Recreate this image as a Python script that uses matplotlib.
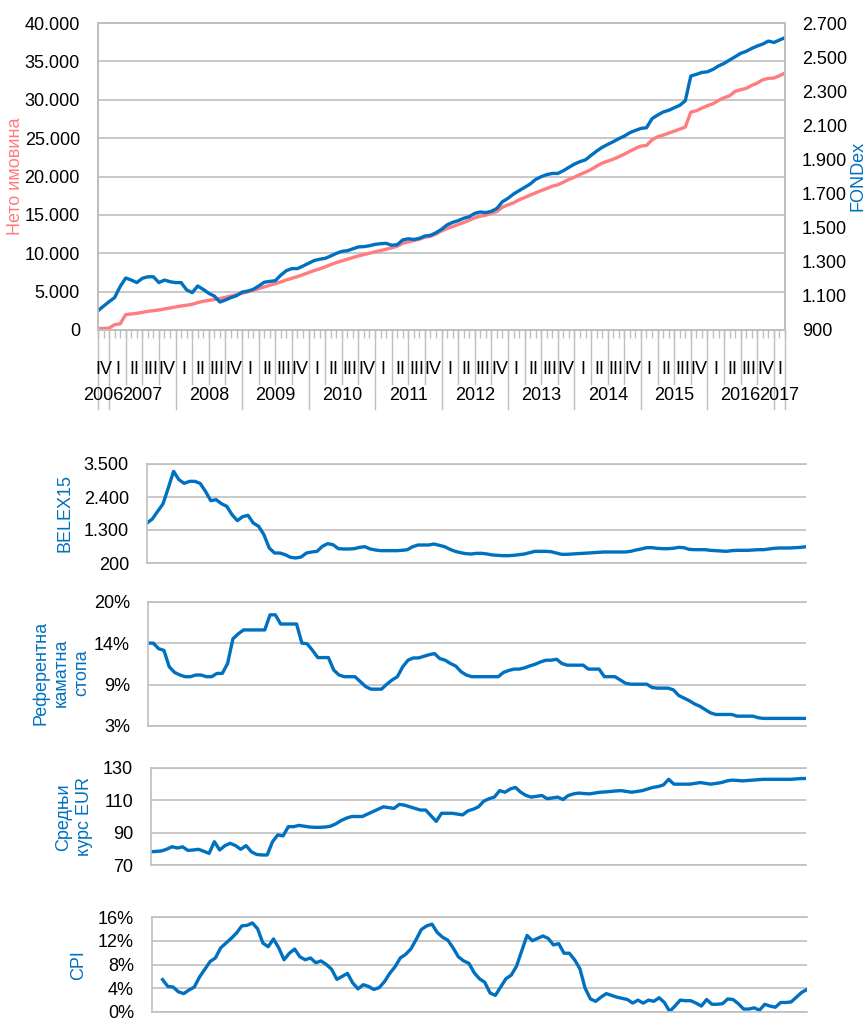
import matplotlib
matplotlib.use("Agg")
import matplotlib.pyplot as plt
import matplotlib.transforms as mtransforms
import numpy as np

plt.rcParams['font.family'] = ['Liberation Sans', 'DejaVu Sans']

# Monthly data, Oct 2006 .. Feb 2017 (125 months)
months = list(range(125))

# Net assets (left axis of the top chart)
neto = [200, 200, 250, 700, 800, 2000, 2090, 2170, 2300, 2430,
        2520, 2610, 2740, 2870, 3000, 3130, 3220, 3350, 3570, 3740,
        3870, 3960, 4090, 4260, 4430, 4610, 4780, 4960, 5170, 5390,
        5610, 5830, 6040, 6260, 6520, 6740, 6960, 7220, 7480, 7740,
        7960, 8220, 8520, 8780, 9000, 9220, 9440, 9650, 9830, 10000,
        10170, 10350, 10520, 10700, 10910, 11300, 11480, 11650, 11830, 12090,
        12200, 12500, 12900, 13220, 13480, 13740, 14000, 14300, 14610, 14830,
        14960, 15220, 15440, 16000, 16310, 16570, 16960, 17260, 17570, 17870,
        18170, 18440, 18740, 18910, 19260, 19610, 19910, 20260, 20570, 20910,
        21350, 21740, 22000, 22260, 22570, 22910, 23300, 23650, 23960, 24040,
        24780, 25170, 25390, 25650, 25910, 26170, 26440, 28390, 28570, 28910,
        29220, 29480, 29910, 30260, 30520, 31090, 31310, 31480, 31870, 32180,
        32610, 32780, 32830, 33130, 33480]

# FONDex (right axis of the top chart)
fondex = [1013, 1040, 1066, 1090, 1155, 1205, 1193, 1178, 1203, 1212,
          1212, 1178, 1193, 1183, 1178, 1178, 1135, 1119, 1158, 1138,
          1115, 1099, 1064, 1076, 1090, 1101, 1122, 1128, 1138, 1158,
          1180, 1185, 1189, 1222, 1248, 1260, 1260, 1275, 1291, 1307,
          1315, 1320, 1334, 1349, 1361, 1365, 1376, 1387, 1389, 1394,
          1402, 1406, 1408, 1397, 1400, 1428, 1435, 1431, 1437, 1451,
          1455, 1470, 1490, 1516, 1531, 1541, 1555, 1564, 1584, 1592,
          1588, 1596, 1613, 1652, 1672, 1697, 1717, 1736, 1756, 1783,
          1799, 1811, 1818, 1818, 1834, 1854, 1873, 1887, 1898, 1924,
          1949, 1971, 1988, 2004, 2022, 2037, 2057, 2070, 2082, 2086,
          2139, 2160, 2178, 2188, 2203, 2217, 2244, 2389, 2399, 2410,
          2414, 2428, 2448, 2463, 2483, 2502, 2522, 2534, 2551, 2565,
          2577, 2594, 2586, 2600, 2614]

belex = [1533, 1667, 1922, 2167, 2700, 3255, 2978, 2855, 2922, 2922,
         2855, 2589, 2278, 2311, 2178, 2089, 1811, 1611, 1744, 1789,
         1533, 1422, 1144, 700, 533, 533, 478, 389, 367, 400,
         533, 567, 589, 756, 844, 811, 678, 667, 667, 678,
         722, 744, 667, 633, 611, 611, 611, 611, 622, 644,
         744, 800, 800, 800, 833, 789, 744, 656, 589, 544,
         511, 500, 522, 522, 500, 467, 456, 444, 444, 456,
         478, 500, 544, 589, 589, 589, 578, 533, 489, 489,
         500, 511, 522, 533, 544, 556, 567, 567, 567, 567,
         567, 589, 633, 667, 711, 711, 689, 678, 678, 689,
         722, 711, 656, 644, 644, 644, 622, 611, 600, 589,
         611, 622, 622, 622, 633, 644, 644, 667, 689, 700,
         700, 700, 711, 722, 744]

ref_rate = [14.36, 14.36, 13.6, 13.37, 11.12, 10.35, 9.99, 9.76, 9.76, 9.99,
            9.99, 9.76, 9.76, 10.21, 10.21, 11.57, 14.95, 15.63, 16.17, 16.17,
            16.17, 16.17, 16.17, 18.24, 18.24, 16.98, 16.98, 16.98, 16.98, 14.36,
            14.27, 13.37, 12.38, 12.38, 12.38, 10.67, 9.99, 9.76, 9.76, 9.76,
            9.09, 8.41, 8.05, 8.05, 8.05, 8.73, 9.31, 9.76, 11.12, 12.02,
            12.33, 12.33, 12.56, 12.78, 12.92, 12.24, 12.02, 11.57, 11.21, 10.44,
            9.99, 9.76, 9.76, 9.76, 9.76, 9.76, 9.76, 10.35, 10.62, 10.80,
            10.80, 10.98, 11.25, 11.48, 11.79, 12.02, 12.02, 12.15, 11.57, 11.34,
            11.34, 11.34, 11.34, 10.80, 10.80, 10.80, 9.76, 9.76, 9.76, 9.31,
            8.86, 8.73, 8.73, 8.73, 8.73, 8.28, 8.19, 8.19, 8.19, 7.96,
            7.19, 6.83, 6.47, 6.02, 5.71, 5.25, 4.80, 4.58, 4.58, 4.58,
            4.58, 4.35, 4.35, 4.35, 4.35, 4.13, 4.04, 4.04, 4.04, 4.04,
            4.04, 4.04, 4.04, 4.04, 4.04]

eur = [78.2, 78.4, 78.7, 79.8, 81.3, 80.5, 81.2, 79.0, 79.3, 79.7,
       78.5, 77.2, 84.4, 79.3, 82.0, 83.4, 82.0, 79.7, 82.0, 78.2,
       76.5, 76.2, 76.2, 84.4, 88.6, 88.0, 93.7, 93.7, 94.5, 94.0,
       93.5, 93.3, 93.3, 93.5, 94.0, 95.5, 97.5, 99.0, 100.0, 100.0,
       100.0, 101.5, 103.0, 104.5, 106.0, 105.5, 105.0, 107.5, 107.0, 106.0,
       105.0, 104.0, 104.0, 100.5, 97.0, 102.0, 102.0, 102.0, 101.5, 101.0,
       103.5, 104.5, 106.0, 109.5, 111.0, 112.0, 116.0, 115.0, 117.0, 118.0,
       115.0, 113.0, 112.0, 112.5, 113.0, 111.0, 111.5, 112.0, 110.5, 113.0,
       114.0, 114.5, 114.2, 114.0, 114.5, 115.0, 115.2, 115.5, 115.8, 116.0,
       115.5, 115.0, 115.5, 116.0, 117.0, 118.0, 118.5, 119.5, 123.0, 120.0,
       120.0, 120.0, 120.0, 120.5, 121.0, 120.5, 120.0, 120.5, 121.0, 122.0,
       122.5, 122.3, 122.0, 122.3, 122.5, 122.8, 123.0, 123.0, 123.0, 123.0,
       123.0, 123.0, 123.2, 123.5, 123.5]

# CPI starts two months later than the other series
cpi = [np.nan, np.nan, 5.45, 4.3, 4.2, 3.4, 3.1, 3.7, 4.2, 5.9,
       7.2, 8.5, 9.1, 10.8, 11.6, 12.4, 13.3, 14.5, 14.6, 15.0,
       14.0, 11.6, 11.0, 12.3, 10.8, 8.8, 9.9, 10.6, 9.3, 8.8,
       9.1, 8.3, 8.6, 8.0, 7.2, 5.5, 6.0, 6.5, 4.9, 3.9,
       4.6, 4.3, 3.8, 4.1, 5.1, 6.5, 7.6, 9.1, 9.7, 10.6,
       12.2, 13.9, 14.5, 14.8, 13.4, 12.6, 12.1, 10.8, 9.3, 8.6,
       8.2, 6.6, 5.6, 5.0, 3.2, 2.8, 4.2, 5.6, 6.2, 7.7,
       10.3, 12.9, 12.0, 12.4, 12.8, 12.4, 11.3, 11.5, 9.9, 9.9,
       8.8, 7.3, 4.0, 2.2, 1.8, 2.5, 3.1, 2.8, 2.5, 2.3,
       2.1, 1.5, 2.0, 1.5, 2.0, 1.8, 2.4, 1.6, 0.1, 1.0,
       2.0, 1.9, 1.9, 1.5, 1.0, 2.1, 1.3, 1.3, 1.4, 2.2,
       2.1, 1.4, 0.5, 0.5, 0.7, 0.3, 1.3, 1.0, 0.8, 1.6,
       1.6, 1.7, 2.5, 3.3, 3.8]

years = ['2006', '2007', '2008', '2009', '2010', '2011', '2012',
         '2013', '2014', '2015', '2016', '2017']
quarters = ['IV'] + ['I', 'II', 'III', 'IV'] * 10 + ['I']

BLUE = '#0070c0'
PINK = '#ff7c80'
GRID = '#bfbfbf'
W, H = 867, 1018


def box(left, top, right, bottom):
    # pixel box -> figure fraction
    return [left / W, 1 - bottom / H, (right - left) / W, (bottom - top) / H]


def dots(v):
    return '{:,.0f}'.format(v).replace(',', '.')


fig = plt.figure(figsize=(W / 100, H / 100), dpi=100)

# ---- top chart: net assets and FONDex
ax = fig.add_axes(box(98, 23, 785, 330))
ax.plot(months, neto, color=PINK, lw=2.4, solid_joinstyle='round')
ax.set_xlim(0, 124)
ax.set_ylim(0, 40000)
ticks = list(range(0, 40001, 5000))
ax.set_yticks(ticks)
ax.set_yticklabels([dots(t) for t in ticks])
ax.grid(axis='y', color=GRID, lw=1.2)
ax.set_axisbelow(True)
ax.tick_params(axis='y', length=0, pad=13, labelsize=13)
ax.set_xticks([])
ax.set_xticks(months, minor=True)
ax.tick_params(axis='x', which='minor', length=6, color=GRID, width=1)

ax2 = ax.twinx()
ax2.plot(months, fondex, color=BLUE, lw=2.4, solid_joinstyle='round')
ax2.set_ylim(900, 2700)
rticks = list(range(900, 2701, 200))
ax2.set_yticks(rticks)
ax2.set_yticklabels([dots(t) for t in rticks])
ax2.tick_params(axis='y', length=0, pad=12, labelsize=13)

for a in (ax, ax2):
    for s in a.spines.values():
        s.set_color(GRID)
        s.set_linewidth(1.2)

# multi-level category axis: quarters and years
trans = mtransforms.blended_transform_factory(ax.transData, ax.transAxes)
q_edges = [0] + [2 + 3 * k for k in range(41)] + [124]
y_edges = [0] + [2 + 12 * k for k in range(11)] + [124]
q_low = (330 - 384) / 307
y_low = (330 - 409) / 307
for e in q_edges:
    ax.plot([e, e], [0, q_low], transform=trans, clip_on=False, color=GRID, lw=1)
for e in y_edges:
    ax.plot([e, e], [q_low, y_low], transform=trans, clip_on=False, color=GRID, lw=1)
for k, q in enumerate(quarters):
    ax.text((q_edges[k] + q_edges[k + 1]) / 2, (330 - 370) / 307, q,
            transform=trans, ha='center', va='center', fontsize=13)
for k, yr in enumerate(years):
    ax.text((y_edges[k] + y_edges[k + 1]) / 2, (330 - 396) / 307, yr,
            transform=trans, ha='center', va='center', fontsize=13)

fig.text(16 / W, 1 - 176 / H, 'Нето имовина', rotation=90, color=PINK,
         ha='center', va='center', fontsize=13)
fig.text(858 / W, 1 - 176 / H, 'FONDex', rotation=90, color=BLUE,
         ha='center', va='center', fontsize=13)

# ---- lower panels
panels = [
    (box(147, 464, 806, 563), belex, (200, 3500), [200, 1300, 2400, 3500],
     ['3.500', '2.400', '1.300', '200'][::-1]),
    (box(148, 602, 806, 726), ref_rate, (3, 20), [3, 3 + 17 / 3, 3 + 34 / 3, 20],
     ['3%', '9%', '14%', '20%']),
    (box(151, 768, 806, 865), eur, (70, 130), [70, 90, 110, 130],
     ['70', '90', '110', '130']),
    (box(152, 917, 807, 1012), cpi, (0, 16), [0, 4, 8, 12, 16],
     ['0%', '4%', '8%', '12%', '16%']),
]
for rect, series, lim, yt, ylab in panels:
    p = fig.add_axes(rect)
    p.plot(months, series, color=BLUE, lw=2.4, solid_joinstyle='round')
    p.set_xlim(0, 124)
    p.set_ylim(*lim)
    p.set_yticks(yt)
    p.set_yticklabels(ylab)
    p.set_xticks([])
    p.grid(axis='y', color=GRID, lw=1.2)
    p.set_axisbelow(True)
    p.tick_params(axis='y', length=0, pad=13, labelsize=13)
    p.spines['right'].set_visible(False)
    for s in ('left', 'bottom', 'top'):
        p.spines[s].set_color(GRID)
        p.spines[s].set_linewidth(1.2)

fig.text(65 / W, 1 - 513 / H, 'BELEX15', rotation=90, color=BLUE,
         ha='center', va='center', fontsize=13)
fig.text(61 / W, 1 - 673 / H, 'Референтна\nкаматна\nстопа', rotation=90,
         color=BLUE, ha='center', va='center', fontsize=13, linespacing=1.25,
         multialignment='center')
fig.text(74 / W, 1 - 817 / H, 'Средњи\nкурс EUR', rotation=90, color=BLUE,
         ha='center', va='center', fontsize=13, linespacing=1.25,
         multialignment='center')
fig.text(79 / W, 1 - 965 / H, 'CPI', rotation=90, color=BLUE,
         ha='center', va='center', fontsize=13)

fig.savefig('out.png', dpi=100)
